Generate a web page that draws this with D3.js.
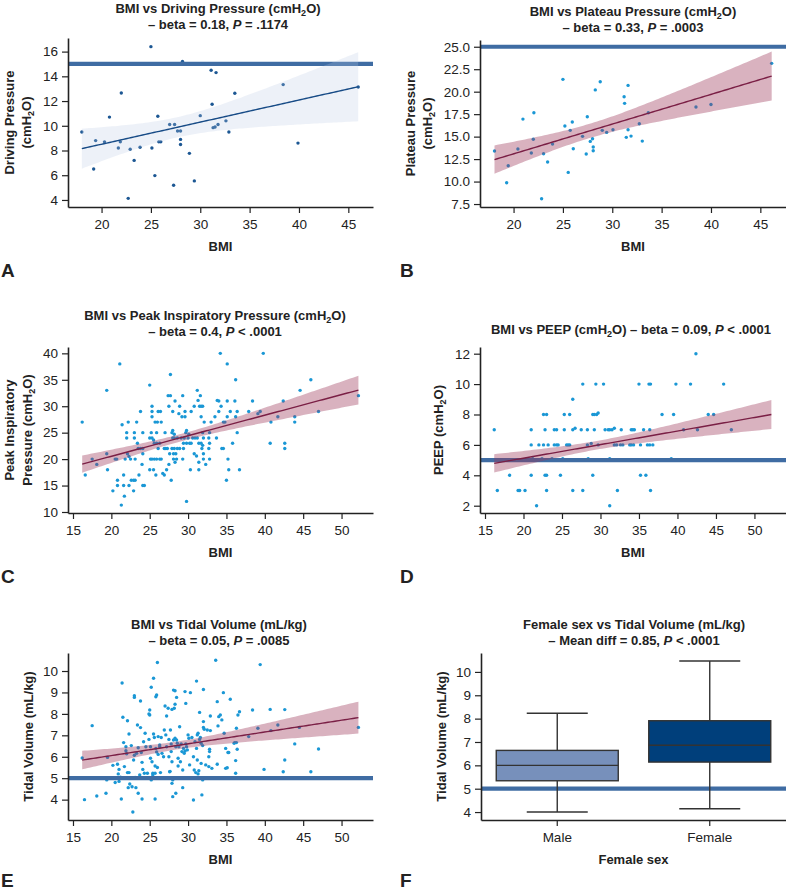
<!DOCTYPE html>
<html>
<head>
<meta charset="utf-8">
<script src="https://cdn.jsdelivr.net/npm/d3@7"></script>
<style>
  body { margin: 0; background: #fff; }
  svg text { font-family: "Liberation Sans", Arial, Helvetica, sans-serif; fill: #222; }
</style>
</head>
<body>
<div id="chart"></div>
<script>
// ---- data ----
// A: BMI vs driving pressure
const pointsA = [[18.0,9.5],[19.2,6.5],[19.4,8.8],[20.3,8.7],[20.8,10.7],[21.7,8.2],[21.9,8.7],[22.0,12.65],
  [22.9,8.1],[22.7,4.13],[23.3,7.2],[23.9,8.26],[25.0,16.4],[25.1,8.2],[25.4,5.97],[25.7,10.77],[25.8,8.7],
  [26.0,8.7],[26.9,10.1],[27.3,5.19],[27.4,10.1],[27.7,9.58],[28.0,9.58],[28.0,8.9],[28.0,8.48],[28.2,15.2],
  [28.7,15.0],[28.9,7.77],[29.4,5.54],[30.0,10.82],[31.1,14.49],[31.2,11.74],[31.6,14.3],[31.3,9.85],[31.5,9.9],
  [31.8,10.1],[32.6,10.4],[32.9,9.5],[33.5,12.63],[38.4,13.33],[39.9,8.6],[46.0,13.14]];

// B: BMI vs plateau pressure
const pointsB = [[18.07,13.4],[19.3,9.87],[19.46,11.76],[20.44,13.62],[20.95,16.95],[21.8,13.17],[22.0,14.7],
  [22.06,17.66],[22.84,8.09],[23.04,13.1],[23.45,12.17],[23.95,14.17],[25.0,21.37],[25.2,16.18],[25.54,11.02],
  [25.74,15.7],[25.95,16.62],[26.05,13.65],[26.99,15.03],[27.36,13.06],[27.47,17.21],[27.77,14.47],[28.0,14.77],
  [28.07,13.84],[28.07,13.43],[28.28,20.2],[28.78,21.1],[28.99,15.7],[29.43,15.47],[30.07,15.77],[31.2,19.44],
  [31.25,18.7],[31.42,14.92],[31.6,20.7],[31.6,15.77],[31.9,15.06],[32.74,16.44],[33.04,14.5],[33.65,17.66],
  [38.48,18.29],[40.0,18.58],[46.15,23.15]];

// C: BMI vs peak inspiratory pressure
const pointsC = [[16.2,27],[16.6,17],[17.5,20],[18.1,19],[19.4,21],[19.4,33],[19.5,18],[20.2,14],[20.5,20],[20.7,20],
  [20.8,16],[20.8,15],[21.1,38],[21.3,11.3],[21.4,26.5],[21.6,17],[21.7,13],[21.6,15],[21.8,20],[22.0,24],[22.0,25],
  [22.1,21],[22.2,27],[22.3,20.5],[22.3,15],[22.5,20],[22.6,16],[22.9,16],[22.9,14],[23.0,24],[23.0,25],[23.1,20],
  [23.1,16],[23.3,27],[23.4,23],[23.5,22],[23.6,17],[23.8,29],[23.8,22],[24.0,19],[24.1,25],[24.1,22],[24.1,21],
  [24.1,15],[24.3,15],[25.0,34],[25.0,24],[25.0,18],[25.1,20],[25.2,25],[25.3,30],[25.3,29],[25.3,28],[25.3,24],
  [25.3,20],[25.5,18],[25.5,23.6],[25.6,20],[25.6,23],[25.7,27],[25.8,17],[25.9,25],[25.9,20],[25.9,23],[26.0,27],
  [26.1,22],[26.1,29],[26.3,20],[26.3,23],[26.4,29],[26.5,27],[26.5,20],[26.7,17.3],[26.9,22],[26.9,17],[27.0,25],
  [27.1,22],[27.2,18],[27.3,22],[27.4,32],[27.5,19],[27.5,30],[27.6,21],[27.7,36],[27.7,32],[27.8,16],[27.9,25],
  [27.9,22],[28.0,29],[28.0,25.4],[28.0,24],[28.1,20],[28.1,21],[28.2,24],[28.2,22],[28.2,24.7],[28.3,31],[28.3,19.4],
  [28.4,21],[28.5,20],[28.6,24],[28.6,22],[28.8,28.6],[28.9,30],[28.9,22],[29.1,24],[29.2,28],[29.3,20],[29.3,32],
  [29.4,23],[29.4,22],[29.5,24],[29.6,28],[29.6,29],[29.7,25],[29.8,12],[29.8,25.4],[29.8,23],[30.0,24],[30.1,24.7],
  [30.2,23],[30.4,23],[30.4,29],[30.3,18],[30.6,24],[30.8,21],[30.8,30],[30.9,24],[31.1,20.6],[31.2,33],[31.2,24],
  [31.3,31.1],[31.4,23],[31.4,18],[31.4,19.4],[31.5,30],[31.6,32],[31.7,28],[31.7,23],[31.7,30],[31.8,22],[31.9,30],
  [31.9,25],[31.9,22.6],[32.0,24],[32.0,20],[32.0,21],[32.1,27],[32.3,19],[32.7,24],[32.7,22],[32.8,23],[32.8,25],
  [32.8,20],[33.0,27],[33.5,28],[33.7,24],[33.8,31.1],[34.0,29],[34.0,31],[34.2,40],[34.3,30],[34.4,22],[34.6,27],
  [34.6,22],[34.8,27],[35.0,16],[35.1,28],[35.1,38],[35.1,31],[35.2,20],[35.3,18],[35.5,29],[35.8,23],[36.1,31],
  [36.2,35],[36.2,28],[36.4,25],[36.4,29],[36.7,18],[37.9,29],[38.4,31],[39.1,28.6],[39.4,29],[39.8,40],[40.7,23],
  [40.8,27],[41.7,28],[42.4,31],[42.6,23],[42.6,22],[43.9,27],[43.9,28],[44.6,33],[46.0,35],[47.0,29],[52.2,32]];

// D: BMI vs PEEP (many values of 5 sit under the reference line)
const pointsD = [[16.2,7],[16.6,3],[17.6,5],[18.2,4],[19.3,3],[19.5,3],[19.4,5],[20.2,3],[21.0,7],[21.0,6],[21.0,4],
  [21.0,5],[21.3,5],[21.5,5],[21.7,2],[22.0,6],[22.6,8],[22.6,6],[22.8,7],[22.8,4],[23.0,4],[23.0,8],[23.0,3],[23.2,6],
  [24.0,7],[24.3,7],[24.0,6],[24.3,6],[24.5,6],[24.8,4],[25.3,8],[25.3,7],[25.6,6],[25.8,6],[26.0,8],[26.0,6],[26.4,9],
  [26.4,7],[26.7,7.1],[26.4,3],[27.7,10],[27.5,7],[27.7,3],[28.3,6],[28.3,7],[28.8,6.1],[29.0,8],[29.2,8],[29.5,8],
  [29.7,8.1],[29.0,4],[29.2,7],[29.4,10],[29.7,6],[30.4,10],[30.6,7],[31.0,7],[31.2,7],[31.5,7],[31.8,7.1],[31.8,6],
  [32.1,6],[31.2,2],[32.2,3],[32.7,7],[32.6,6],[32.9,6],[33.8,6],[34.0,6],[34.3,6],[34.0,7],[34.2,7],[34.4,7],[35.0,10],
  [35.2,6],[35.2,4],[35.6,7],[35.9,4],[36.1,6],[36.4,6],[36.4,7],[36.3,10],[36.5,10],[36.5,3],[36.8,6],[38.0,8],
  [39.2,5.1],[39.5,8],[39.8,10],[40.8,7],[40.8,5],[41.7,10],[42.4,12],[42.6,7],[42.6,5],[44.0,8],[44.7,8],[46.0,10],
  [47.0,7],[52.2,5],
  [20.9,5],[21.2,5.1],[21.6,5],[22.4,5.1],[22.7,5],[23.4,5],[23.7,5.1],[24.2,5],[24.7,5],[25.1,5.1],[25.6,5],[26.0,5],
  [26.4,5],[27.1,5],[27.5,5],[27.9,5],[28.4,5.1],[28.7,5],[29.0,5],[29.5,5],[29.9,5],[30.1,5],[30.8,5],[31.2,5.1],
  [31.4,5],[31.6,5],[32.1,5],[32.5,5],[32.9,5],[33.4,5],[33.8,5],[34.7,5],[34.9,5],[35.5,5],
  [17.0,5],[18.6,5],[19.9,5],[38.5,5],[43.6,5]];

// E: BMI vs tidal volume
const pointsE = [[16.2,5.94],[16.5,4.0],[17.5,7.45],[18.1,4.17],[19.3,4.3],[19.4,4.92],[19.5,5.97],[20.2,5.6],[20.5,4.8],
  [20.8,5.65],[20.9,5.2],[21.0,5.41],[21.0,4.85],[21.2,5.05],[21.3,4.03],[21.4,9.44],[21.5,7.84],[21.6,6.66],[21.7,5.54],
  [21.9,6.47],[21.9,6.28],[22.0,6.14],[22.1,7.68],[22.1,5.26],[22.2,4.56],[22.3,7.06],[22.3,5.26],[22.4,4.73],[22.6,6.52],
  [22.7,4.6],[22.8,3.42],[22.9,5.85],[23.0,8.85],[23.0,8.77],[23.0,6.07],[23.1,5.04],[23.2,4.56],[23.3,6.16],[23.4,7.48],
  [23.5,6.42],[23.5,4.3],[23.7,5.15],[23.8,8.6],[23.8,7.36],[23.9,6.2],[24.0,5.74],[24.0,4.03],[24.1,5.41],[24.2,6.7],
  [24.3,5.23],[24.4,7.1],[24.5,6.47],[24.7,5.23],[24.9,6.81],[24.9,8.0],[25.0,8.18],[25.0,7.95],[25.1,5.93],[25.1,6.47],
  [25.2,9.24],[25.2,4.92],[25.3,5.77],[25.4,5.23],[25.4,5.15],[25.5,7.06],[25.5,9.66],[25.6,6.9],[25.7,5.23],[25.7,4.03],
  [25.7,5.57],[25.8,6.39],[25.8,8.8],[25.9,6.22],[25.9,8.88],[26.0,10.4],[26.0,5.5],[26.1,6.94],[26.1,6.11],[26.3,6.47],
  [26.3,6.55],[26.4,5.26],[26.5,6.9],[26.6,6.16],[26.8,6.0],[26.9,7.25],[27.0,8.37],[27.1,7.02],[27.2,7.9],[27.2,6.47],
  [27.4,8.26],[27.5,6.0],[27.5,6.81],[27.6,5.3],[27.65,5.32],[27.7,7.25],[27.8,6.6],[27.8,6.24],[27.9,5.77],[27.9,4.76],
  [27.9,8.21],[28.0,4.92],[28.0,4.14],[28.1,6.78],[28.1,9.11],[28.2,8.26],[28.3,6.86],[28.3,8.45],[28.3,9.08],[28.4,6.47],
  [28.4,4.3],[28.5,8.77],[28.5,6.78],[28.6,6.63],[28.7,5.93],[28.7,5.57],[28.8,6.47],[28.9,7.4],[29.0,5.77],[29.1,6.6],
  [29.2,6.24],[29.3,4.56],[29.3,5.38],[29.4,6.39],[29.5,6.16],[29.6,6.27],[29.6,9.04],[29.7,8.49],[29.7,6.6],[29.8,6.47],
  [29.9,6.32],[30.0,7.02],[30.1,6.86],[30.2,5.62],[30.3,8.99],[30.5,6.9],[30.7,6.0],[30.7,3.98],[30.8,5.38],[30.9,6.7],
  [31.0,5.26],[31.1,6.39],[31.1,9.53],[31.2,5.85],[31.2,7.02],[31.3,5.2],[31.3,7.1],[31.4,5.35],[31.5,6.81],[31.5,8.07],
  [31.6,6.9],[31.7,5.69],[31.7,6.63],[31.8,4.22],[31.9,4.92],[31.9,6.52],[32.0,9.14],[32.0,7.37],[32.0,7.64],[32.1,7.28],
  [32.3,5.62],[32.5,7.25],[32.7,5.54],[32.7,6.0],[32.8,6.24],[32.8,6.35],[32.9,7.22],[32.9,7.9],[33.1,5.46],[33.6,10.5],
  [33.8,5.65],[33.8,8.57],[33.9,7.44],[34.0,7.87],[34.2,7.95],[34.4,7.72],[34.6,8.99],[34.7,7.1],[34.9,6.39],[34.9,5.46],
  [35.1,5.49],[35.2,6.2],[35.3,6.2],[35.5,8.68],[36.0,6.63],[36.1,6.66],[36.2,5.82],[36.2,5.23],[36.3,7.33],[36.3,6.66],
  [36.4,6.35],[36.5,7.95],[36.7,8.1],[37.9,6.94],[38.4,8.18],[39.1,7.33],[39.4,10.3],[39.9,5.41],[40.7,8.21],[40.8,7.22],
  [41.7,7.48],[42.4,5.3],[42.6,8.2],[42.6,5.85],[43.9,6.6],[44.5,7.37],[46.0,5.3],[47.0,6.36],[52.2,7.37]];

// F: tidal volume by sex (box summary)
const sexGroups = ["Male", "Female"];
const vtBoxes = [
  {group: "Male",   min: 4.0,  q1: 5.34, median: 6.0,  q3: 6.64, max: 8.23},
  {group: "Female", min: 4.14, q1: 6.14, median: 6.86, q3: 7.91, max: 10.47}
];

// ---- layout ----
const width = 786, height = 894;
const svg = d3.select("#chart").append("svg")
    .attr("width", width)
    .attr("height", height);

const refColor = "#3f6ca3";
const font = 13;
const tickFont = 13.5;

// simple OLS fit with 95% confidence band
function regression(pts) {
    const n = pts.length;
    const xm = d3.mean(pts, d => d[0]), ym = d3.mean(pts, d => d[1]);
    let sxx = 0, sxy = 0;
    pts.forEach(([x, y]) => { sxx += (x - xm) ** 2; sxy += (x - xm) * (y - ym); });
    const b = sxy / sxx, a = ym - b * xm;
    let sse = 0;
    pts.forEach(([x, y]) => { sse += (y - a - b * x) ** 2; });
    const s = Math.sqrt(sse / (n - 2));
    const t = n > 60 ? 1.972 : 2.021;
    const [lo, hi] = d3.extent(pts, d => d[0]);
    return d3.range(0, 101).map(i => {
        const x = lo + (hi - lo) * i / 100;
        const yh = a + b * x;
        const se = s * Math.sqrt(1 / n + (x - xm) ** 2 / sxx);
        return {x: x, y: yh, lo: yh - t * se, hi: yh + t * se};
    });
}

// text made of segments: [text, style] with style "", "sub" or "i"
function richText(g, x, y, segs, attrs) {
    const t = g.append("text").attr("x", x).attr("y", y);
    Object.entries(attrs || {}).forEach(([k, v]) => t.attr(k, v));
    let shift = 0;
    segs.forEach(([txt, style]) => {
        const ts = t.append("tspan").text(txt);
        if (style === "sub") {
            ts.attr("dy", 3 - shift).attr("font-size", 9);
            shift = 3;
        } else {
            if (shift) ts.attr("dy", -shift);
            shift = 0;
            if (style === "i") ts.attr("font-style", "italic");
        }
    });
    return t;
}

function styleAxis(a) {
    a.select(".domain").attr("stroke", "#222").attr("stroke-width", 1.6);
    a.selectAll(".tick line").attr("stroke", "#222").attr("stroke-width", 1.2);
    a.selectAll(".tick text").attr("font-size", tickFont).attr("fill", "#2a2a2a")
        .attr("font-family", '"Liberation Sans", Arial, sans-serif');
}

function drawAxes(g, p, x, y, yFmt) {
    const ax = g.append("g").attr("transform", `translate(0,${p.bottom})`)
        .call(d3.axisBottom(x).tickValues(p.xTicks).tickSize(6).tickSizeOuter(0).tickPadding(6));
    styleAxis(ax);
    const ay = g.append("g").attr("transform", `translate(${p.left},0)`)
        .call(d3.axisLeft(y).tickValues(p.yTicks).tickSize(6).tickSizeOuter(0).tickPadding(4).tickFormat(yFmt));
    styleAxis(ay);
}

function drawLabels(g, p) {
    p.title.forEach((segs, i) => {
        richText(g, p.titleX, p.titleY + i * 16, segs,
            {"text-anchor": "middle", "font-weight": "bold", "font-size": font});
    });
    p.yLabel.forEach((segs, i) => {
        const lx = p.yLabelX[i], ly = (p.top + p.bottom) / 2;
        richText(g, 0, 0, segs, {"text-anchor": "middle", "font-weight": "bold", "font-size": font,
            "transform": `translate(${lx},${ly}) rotate(-90)`, "dy": "0.35em"});
    });
    g.append("text").attr("x", (p.left + p.right) / 2).attr("y", p.bottom + 44)
        .attr("text-anchor", "middle").attr("font-weight", "bold").attr("font-size", font)
        .text(p.xLabel);
    g.append("text").attr("x", p.letterX).attr("y", p.letterY)
        .attr("font-weight", "bold").attr("font-size", 19).text(p.letter);
}

function refLine(g, p, y) {
    if (p.ref == null) return;
    g.append("line")
        .attr("x1", p.left).attr("x2", p.right)
        .attr("y1", y(p.ref)).attr("y2", y(p.ref))
        .attr("stroke", refColor).attr("stroke-width", 4.2);
}

function drawScatter(p) {
    const g = svg.append("g");
    const x = d3.scaleLinear().domain(p.xDom).range([p.left, p.right]);
    const y = d3.scaleLinear().domain(p.yDom).range([p.bottom, p.top]);

    g.append("g").selectAll("circle")
        .data(p.pts)
        .enter()
        .append("circle")
        .attr("cx", d => x(d[0]))
        .attr("cy", d => y(d[1]))
        .attr("r", 1.7)
        .attr("fill", p.dot);

    refLine(g, p, y);

    const fit = regression(p.pts);
    g.append("path")
        .datum(fit)
        .attr("d", d3.area().x(d => x(d.x)).y0(d => y(d.lo)).y1(d => y(d.hi)))
        .attr("fill", p.band).attr("fill-opacity", p.bandOpacity);
    g.append("path")
        .datum(fit)
        .attr("d", d3.line().x(d => x(d.x)).y(d => y(d.y)))
        .attr("fill", "none").attr("stroke", p.lineColor).attr("stroke-width", 1.4);

    drawAxes(g, p, x, y, p.yFmt);
    drawLabels(g, p);
}

function drawBoxes(p) {
    const g = svg.append("g");
    const x = d3.scaleBand().domain(sexGroups).range([p.left, p.right]);
    const y = d3.scaleLinear().domain(p.yDom).range([p.bottom, p.top]);
    const bw = x.bandwidth() * 0.8;
    const colors = {Male: "#7790bb", Female: "#003f7b"};

    refLine(g, p, y);

    const box = g.selectAll(".box")
        .data(vtBoxes)
        .enter()
        .append("g")
        .attr("class", "box")
        .attr("transform", d => `translate(${x(d.group) + x.bandwidth() / 2},0)`);

    box.append("line").attr("y1", d => y(d.max)).attr("y2", d => y(d.q3))
        .attr("stroke", "#333").attr("stroke-width", 1.4);
    box.append("line").attr("y1", d => y(d.q1)).attr("y2", d => y(d.min))
        .attr("stroke", "#333").attr("stroke-width", 1.4);
    box.append("line").attr("x1", -bw / 4).attr("x2", bw / 4)
        .attr("y1", d => y(d.max)).attr("y2", d => y(d.max))
        .attr("stroke", "#333").attr("stroke-width", 1.4);
    box.append("line").attr("x1", -bw / 4).attr("x2", bw / 4)
        .attr("y1", d => y(d.min)).attr("y2", d => y(d.min))
        .attr("stroke", "#333").attr("stroke-width", 1.4);
    box.append("rect")
        .attr("x", -bw / 2).attr("width", bw)
        .attr("y", d => y(d.q3)).attr("height", d => y(d.q1) - y(d.q3))
        .attr("fill", d => colors[d.group])
        .attr("stroke", "#333").attr("stroke-width", 1.4);
    box.append("line").attr("x1", -bw / 2).attr("x2", bw / 2)
        .attr("y1", d => y(d.median)).attr("y2", d => y(d.median))
        .attr("stroke", "#333").attr("stroke-width", 1.4);

    const ax = g.append("g").attr("transform", `translate(0,${p.bottom})`)
        .call(d3.axisBottom(x).tickSize(6).tickSizeOuter(0).tickPadding(6));
    styleAxis(ax);
    const ay = g.append("g").attr("transform", `translate(${p.left},0)`)
        .call(d3.axisLeft(y).tickValues(p.yTicks).tickSize(6).tickSizeOuter(0).tickPadding(4));
    styleAxis(ay);
    drawLabels(g, p);
}

const cmH2O = [["(cmH"], ["2", "sub"], ["O)"]];

drawScatter({
    pts: pointsA, left: 68, right: 373, top: 38, bottom: 207,
    xDom: [16.6, 47.5], yDom: [3.43, 17.1],
    xTicks: [20, 25, 30, 35, 40, 45], yTicks: [4, 6, 8, 10, 12, 14, 16], yFmt: d3.format("d"),
    ref: 15, dot: "#1c5793", band: "#b9c9e2", bandOpacity: 0.25, lineColor: "#174b86",
    title: [[["BMI vs Driving Pressure (cmH"], ["2", "sub"], ["O)"]],
            [["– beta = 0.18, "], ["P", "i"], [" = .1174"]]],
    titleX: 218, titleY: 13,
    yLabel: [[["Driving Pressure"]], cmH2O], yLabelX: [9, 26],
    xLabel: "BMI", letter: "A", letterX: 1, letterY: 277
});

drawScatter({
    pts: pointsB, left: 480, right: 786, top: 40, bottom: 207,
    xDom: [16.6, 47.6], yDom: [7.17, 25.75],
    xTicks: [20, 25, 30, 35, 40, 45], yTicks: [7.5, 10, 12.5, 15, 17.5, 20, 22.5, 25], yFmt: d3.format(".1f"),
    ref: 25, dot: "#1a97d5", band: "#9b3556", bandOpacity: 0.38, lineColor: "#7a1f45",
    title: [[["BMI vs Plateau Pressure (cmH"], ["2", "sub"], ["O)"]],
            [["– beta = 0.33, "], ["P", "i"], [" = .0003"]]],
    titleX: 633, titleY: 16,
    yLabel: [[["Plateau Pressure"]], cmH2O], yLabelX: [410, 427],
    xLabel: "BMI", letter: "B", letterX: 400, letterY: 277
});

drawScatter({
    pts: pointsC, left: 68, right: 373, top: 347, bottom: 513,
    xDom: [14.35, 54.1], yDom: [9.81, 41.2],
    xTicks: [15, 20, 25, 30, 35, 40, 45, 50], yTicks: [10, 15, 20, 25, 30, 35, 40], yFmt: d3.format("d"),
    ref: null, dot: "#1a97d5", band: "#9b3556", bandOpacity: 0.38, lineColor: "#7a1f45",
    title: [[["BMI vs Peak Inspiratory Pressure (cmH"], ["2", "sub"], ["O)"]],
            [["– beta = 0.4, "], ["P", "i"], [" < .0001"]]],
    titleX: 215, titleY: 320,
    yLabel: [[["Peak Inspiratory"]], [["Pressure (cmH"], ["2", "sub"], ["O)"]]], yLabelX: [9, 27],
    xLabel: "BMI", letter: "C", letterX: 1, letterY: 583
});

drawScatter({
    pts: pointsD, left: 480, right: 786, top: 347, bottom: 513,
    xDom: [14.35, 54.1], yDom: [1.52, 12.44],
    xTicks: [15, 20, 25, 30, 35, 40, 45, 50], yTicks: [2, 4, 6, 8, 10, 12], yFmt: d3.format("d"),
    ref: 5, dot: "#1a97d5", band: "#9b3556", bandOpacity: 0.38, lineColor: "#7a1f45",
    title: [[["BMI vs PEEP (cmH"], ["2", "sub"], ["O) – beta = 0.09, "], ["P", "i"], [" < .0001"]]],
    titleX: 631, titleY: 334,
    yLabel: [[["PEEP (cmH"], ["2", "sub"], ["O)"]]], yLabelX: [438],
    xLabel: "BMI", letter: "D", letterX: 400, letterY: 583
});

drawScatter({
    pts: pointsE, left: 68, right: 373, top: 653, bottom: 820,
    xDom: [14.35, 54.1], yDom: [3.05, 10.84],
    xTicks: [15, 20, 25, 30, 35, 40, 45, 50], yTicks: [4, 5, 6, 7, 8, 9, 10], yFmt: d3.format("d"),
    ref: 5, dot: "#1a97d5", band: "#9b3556", bandOpacity: 0.38, lineColor: "#7a1f45",
    title: [[["BMI vs Tidal Volume (mL/kg)"]],
            [["– beta = 0.05, "], ["P", "i"], [" = .0085"]]],
    titleX: 219, titleY: 629,
    yLabel: [[["Tidal Volume (mL/kg)"]]], yLabelX: [28],
    xLabel: "BMI", letter: "E", letterX: 1, letterY: 887
});

drawBoxes({
    left: 481, right: 786, top: 653, bottom: 820,
    yDom: [3.66, 10.81], yTicks: [4, 5, 6, 7, 8, 9, 10], ref: 5,
    title: [[["Female sex vs Tidal Volume (mL/kg)"]],
            [["– Mean diff = 0.85, "], ["P", "i"], [" < .0001"]]],
    titleX: 634, titleY: 629,
    yLabel: [[["Tidal Volume (mL/kg)"]]], yLabelX: [441],
    xLabel: "Female sex", letter: "F", letterX: 400, letterY: 887
});
</script>
</body>
</html>
